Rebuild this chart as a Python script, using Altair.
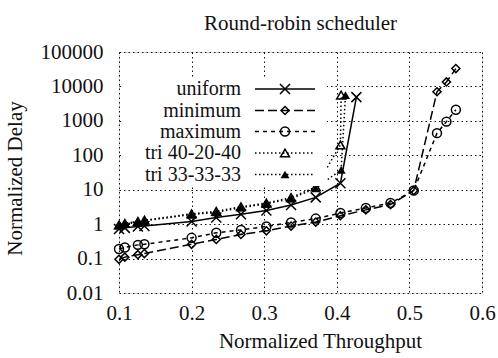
import altair as alt
import pandas as pd

# ---- data ----
x_main = [0.1, 0.108, 0.126, 0.135, 0.2, 0.234, 0.268, 0.303, 0.337, 0.371, 0.405]

uniform_x = x_main + [0.427]
uniform_y = [0.72, 0.78, 0.85, 0.88, 1.2, 1.55, 1.95, 2.5, 3.6, 6.0, 15.5, 4900]

tri402040_x = x_main + [0.406]
tri402040_y = [0.95, 1.05, 1.2, 1.3, 2.0, 2.35, 3.2, 4.1, 5.9, 12.0, 200, 5600]

tri333333_x = x_main[:-1] + [0.406, 0.412]
tri333333_y = [0.9, 1.0, 1.15, 1.25, 1.9, 2.2, 3.0, 3.9, 5.5, 11.0, 38, 5600]

mm_x = x_main + [0.44, 0.474, 0.506, 0.538, 0.551, 0.564]
maximum_y = [0.19, 0.21, 0.25, 0.26, 0.40, 0.56, 0.68, 0.86, 1.12, 1.45, 2.1, 2.95, 4.1, 9.5, 440, 950, 2100]
minimum_y = [0.095, 0.11, 0.13, 0.14, 0.26, 0.36, 0.5, 0.64, 0.88, 1.15, 1.75, 2.6, 3.7, 9.5, 7000, 13500, 33000]

x_ticks = [0.1, 0.2, 0.3, 0.4, 0.5, 0.6]
y_ticks = [0.01, 0.1, 1, 10, 100, 1000, 10000, 100000]

FONT = "Liberation Serif"
FS = 21
LFS = 20
XPATH = "M-1,-1L1,1M-1,1L1,-1"

series = [
    # name, xs, ys, dash, shape, filled, size
    ("uniform", uniform_x, uniform_y, [], XPATH, False, 100),
    ("minimum", mm_x, minimum_y, [9, 4], "diamond", False, 65),
    ("maximum", mm_x, maximum_y, [4, 4], "circle", False, 80),
    ("tri 40-20-40", tri402040_x, tri402040_y, [1.5, 2.5], "triangle-up", False, 80),
    ("tri 33-33-33", tri333333_x, tri333333_y, [1.5, 2.5], "triangle-up", True, 80),
]

x_axis = alt.Axis(values=x_ticks, format=".1f", grid=True, gridDash=[1.5, 3],
                  gridColor="#111", gridWidth=1, ticks=False, tickSize=0, domain=False,
                  labelFont=FONT, labelFontSize=FS, labelColor="#111", labelPadding=9,
                  labelBaseline="top", labelFlush=False,
                  title="Normalized Throughput", titleFont=FONT, titleFontSize=FS,
                  titleFontWeight="normal", titleColor="#111", titleX=201, titleY=48,
                  titleBaseline="middle", titleAlign="center")
y_axis = alt.Axis(values=y_ticks, grid=True, gridDash=[1.5, 3], gridColor="#111", gridWidth=1,
                  ticks=False, tickSize=0, domain=False,
                  labelExpr="datum.value < 1 ? format(datum.value, '.2~f') : format(datum.value, 'd')",
                  labelFont=FONT, labelFontSize=FS, labelColor="#111", labelPadding=16,
                  labelBaseline="middle", labelFlush=False,
                  title="Normalized Delay", titleFont=FONT, titleFontSize=FS,
                  titleFontWeight="normal", titleColor="#111", titleX=-104, titleY=126,
                  titleAngle=270, titleBaseline="middle", titleAlign="center")

xs = alt.Scale(domain=[0.1, 0.6], nice=False, zero=False)
ys = alt.Scale(type="log", domain=[0.01, 100000], nice=False)

layers = []
for i, (name, sx, sy, dash, shape, filled, size) in enumerate(series):
    df = pd.DataFrame({"x": sx, "y": sy})
    base = alt.Chart(df).encode(
        x=alt.X("x:Q", scale=xs, axis=x_axis),
        y=alt.Y("y:Q", scale=ys, axis=y_axis),
    )
    line_kw = dict(color="black", strokeWidth=1.5)
    if dash:
        line_kw["strokeDash"] = dash
    layers.append(base.mark_line(**line_kw))
    layers.append(base.mark_point(shape=shape, filled=filled, size=size, color="black",
                                  strokeWidth=1.5, opacity=1))

# legend background (opaque key box)
layers.append(
    alt.Chart(pd.DataFrame({"a": [0]})).mark_rect(fill="white", stroke=None).encode(
        x=alt.value(4), x2=alt.value(208), y=alt.value(25), y2=alt.value(134))
)

row_y = [37, 58.5, 79.5, 101, 122.5]
for i, (name, sx, sy, dash, shape, filled, size) in enumerate(series):
    ldf = pd.DataFrame({"series": [name]})
    c = alt.Chart(ldf)
    layers.append(c.mark_text(font=FONT, fontSize=LFS, align="right", baseline="middle",
                              color="#111").encode(
        x=alt.value(122), y=alt.value(row_y[i]), text="series:N"))
    rule_kw = dict(color="black", strokeWidth=1.5)
    if dash:
        rule_kw["strokeDash"] = dash
    layers.append(c.mark_rule(**rule_kw).encode(
        x=alt.value(136), x2=alt.value(196), y=alt.value(row_y[i])))
    layers.append(c.mark_point(shape=shape, filled=filled, size=size, color="black",
                               strokeWidth=1.5, opacity=1).encode(
        x=alt.value(166), y=alt.value(row_y[i])))

chart = alt.layer(*layers).properties(
    width=363, height=241,
    padding={"left": 119, "top": 52, "right": 16, "bottom": 65},
    autosize="none",
    title=alt.TitleParams("Round-robin scheduler", font=FONT, fontSize=FS,
                          fontWeight="normal", color="#111", anchor="middle", offset=7),
).configure_view(stroke="black", strokeWidth=2).configure(background="white")

chart.save("out.html", embed_options={"renderer": "svg", "actions": False})
